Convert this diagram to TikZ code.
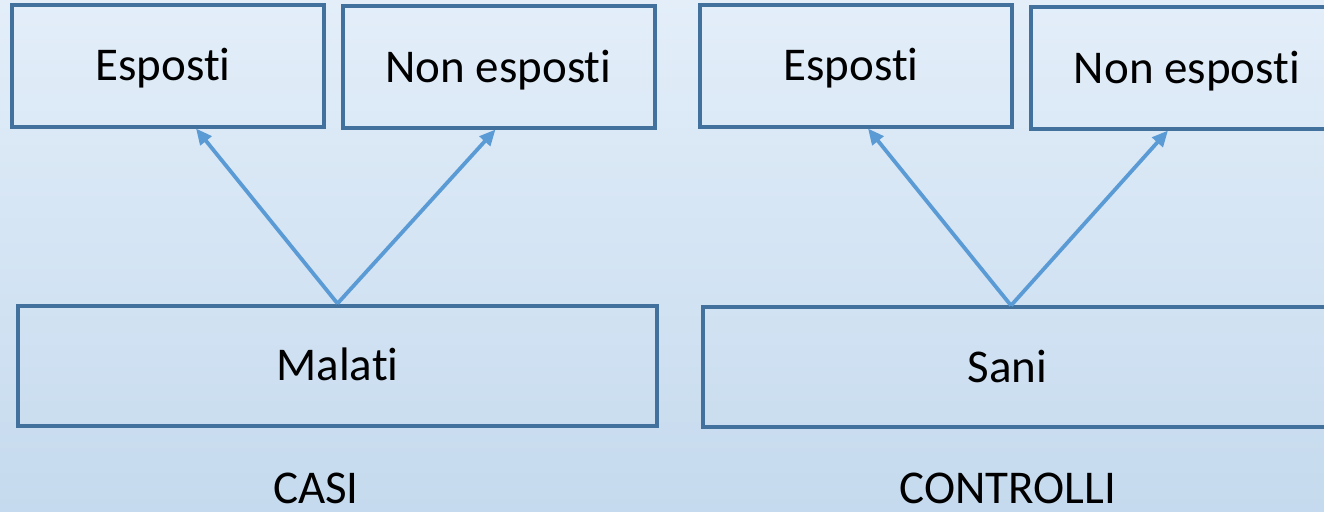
\documentclass[tikz,border=0pt]{standalone}
\usepackage{fontspec}
\setmainfont{Carlito}[Ligatures={NoCommon}]
\usetikzlibrary{arrows.meta}
\definecolor{bgtop}{HTML}{E3EEF9}
\definecolor{bgbot}{HTML}{C5DAEE}
\definecolor{boxline}{HTML}{41719C}
\definecolor{arrcol}{HTML}{5B9BD5}
\tikzset{
  box/.style={draw=boxline, line width=4pt, rectangle, inner sep=0pt,
    font=\fontsize{47}{56}\selectfont, text=black, text height=30pt, text depth=0pt},
  smallbox/.style={box, minimum width=312pt, minimum height=121pt},
  bigbox/.style={box, minimum width=639pt, minimum height=120pt},
  lbl/.style={font=\fontsize{47}{56}\selectfont, text=black, inner sep=0pt, text height=30pt, text depth=0pt},
  arr/.style={draw=arrcol, line width=3.8pt, -{Triangle[length=16pt,width=14pt]}}
}
\begin{document}
\begin{tikzpicture}[x=1pt,y=-1pt]
\useasboundingbox (0,0) rectangle (1324,511);
\clip (0,0) rectangle (1324,511);
\shade[top color=bgtop, bottom color=bgbot] (0,0) rectangle (1324,511);
\node[smallbox] (A) at (168,66) {\hspace*{-10pt}Esposti};
\node[smallbox] (B) at (498.5,67) {Non esposti};
\node[smallbox] (C) at (856,66) {\hspace*{-10pt}Esposti};
\node[smallbox] (D) at (1187,68) {Non esposti};
\node[bigbox] (E) at (337.5,365.5) {Malati};
\node[bigbox] (F) at (1022.5,367) {\hspace*{-30pt}Sani};
\node[lbl] (casi) at (316,488) {CASI};
\node[lbl] (contr) at (1008,488) {CONTROLLI};
\coordinate (s2) at (1011,305.5);
\draw[arr] (E.north) -- ([xshift=28pt]A.south);
\draw[arr] (E.north) -- ([xshift=-3pt]B.south);
\draw[arr] (s2) -- ([xshift=12pt]C.south);
\draw[arr] (s2) -- ([xshift=-19pt]D.south);
\end{tikzpicture}
\end{document}
